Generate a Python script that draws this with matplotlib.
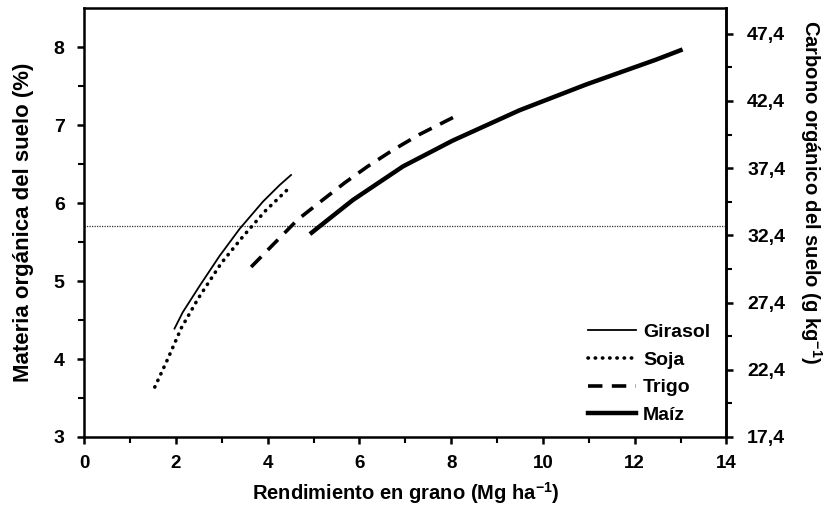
import matplotlib
matplotlib.use("Agg")
import matplotlib.pyplot as plt
from matplotlib.ticker import FixedLocator, MultipleLocator, FuncFormatter

plt.rcParams["font.family"] = ["Liberation Sans", "DejaVu Sans"]
plt.rcParams["font.weight"] = "bold"
plt.rcParams["mathtext.fontset"] = "custom"
plt.rcParams["mathtext.rm"] = "Liberation Sans:bold"
plt.rcParams["mathtext.default"] = "rm"

# valores (rendimiento Mg/ha, materia orgánica %)
girasol_x = [1.97, 2.15, 2.52, 2.95, 3.39, 3.90, 4.26, 4.51]
girasol_y = [4.39, 4.60, 4.94, 5.32, 5.67, 6.02, 6.23, 6.36]

soja_x = [1.54, 1.83, 2.12, 2.49, 2.99, 3.46, 3.95, 4.48]
soja_y = [3.64, 4.01, 4.40, 4.78, 5.23, 5.57, 5.90, 6.20]

trigo_x = [3.64, 4.19, 4.66, 5.20, 5.68, 6.18, 6.73, 7.31, 8.05]
trigo_y = [5.18, 5.51, 5.79, 6.04, 6.26, 6.47, 6.68, 6.88, 7.10]

maiz_x = [4.96, 5.13, 5.86, 6.95, 8.03, 9.49, 10.94, 12.47, 13.00]
maiz_y = [5.62, 5.70, 6.04, 6.47, 6.80, 7.19, 7.52, 7.84, 7.96]

umbral_mo = 5.7
factor_carbono = 5.8
ticks_carbono = [17.4, 22.4, 27.4, 32.4, 37.4, 42.4, 47.4]

fig = plt.figure(figsize=(8.33, 5.09), dpi=100)
ax = fig.add_axes([0.101, 0.1415, 0.771, 0.8425])

ax.axhline(umbral_mo, color="#333333", linewidth=0.9, linestyle=(0, (1, 1)), zorder=1)

ax.plot(girasol_x, girasol_y, color="black", linewidth=1.3, label="Girasol")
ax.plot(soja_x, soja_y, color="black", linewidth=2.6, linestyle=(0, (0.1, 1.9)),
        dash_capstyle="round", label="Soja")
ax.plot(trigo_x, trigo_y, color="black", linewidth=2.6, linestyle=(0, (4, 2.6)), label="Trigo")
ax.plot(maiz_x, maiz_y, color="black", linewidth=3.2, label="Maíz")

ax.set_xlim(0, 14)
ax.set_ylim(3, 8.5)
ax.xaxis.set_major_locator(MultipleLocator(2))
ax.xaxis.set_minor_locator(MultipleLocator(1))
ax.yaxis.set_major_locator(FixedLocator([3, 4, 5, 6, 7, 8]))
ax.yaxis.set_minor_locator(FixedLocator([3.5, 4.5, 5.5, 6.5, 7.5]))

for lado in ax.spines.values():
    lado.set_linewidth(1.8)

ax.tick_params(axis="both", which="major", direction="out", length=5, width=1.8, labelsize=14)
ax.tick_params(axis="x", which="major", pad=8, labelsize=13.5)
ax.tick_params(axis="y", which="major", pad=9)
ax.tick_params(axis="both", which="minor", direction="out", length=4, width=1.5)

ax.set_xlabel("Rendimiento en grano (Mg ha$^{-1}$)", fontsize=14.5, fontweight="bold", labelpad=6)
ax.set_ylabel("Materia orgánica del suelo (%)", fontsize=16, fontweight="bold", labelpad=14)

ax2 = ax.secondary_yaxis("right", functions=(lambda y: y * factor_carbono,
                                             lambda c: c / factor_carbono))
ax2.yaxis.set_major_locator(FixedLocator(ticks_carbono))
ax2.yaxis.set_minor_locator(FixedLocator([t + 2.5 for t in ticks_carbono]))
ax2.yaxis.set_major_formatter(FuncFormatter(lambda v, p: f"{v:.1f}".replace(".", ",")))
ax2.spines["right"].set_linewidth(1.8)
ax2.tick_params(axis="y", which="major", direction="out", length=5, width=1.8,
                labelsize=14, pad=10)
ax2.tick_params(axis="y", which="minor", direction="out", length=4, width=1.5)
ax2.set_ylabel("Carbono orgánico del suelo (g kg$^{-1}$)", fontsize=14.5, fontweight="bold",
               rotation=-90, va="center")
ax2.yaxis.set_label_coords(1.132, 0.571, transform=ax.transAxes)

ax.legend(loc="lower right", bbox_to_anchor=(0.975, 0.03), frameon=False,
          fontsize=14, handlelength=2.5, handletextpad=0.35, labelspacing=0.52,
          borderpad=0, borderaxespad=0)

fig.savefig("out.png", dpi=100)
